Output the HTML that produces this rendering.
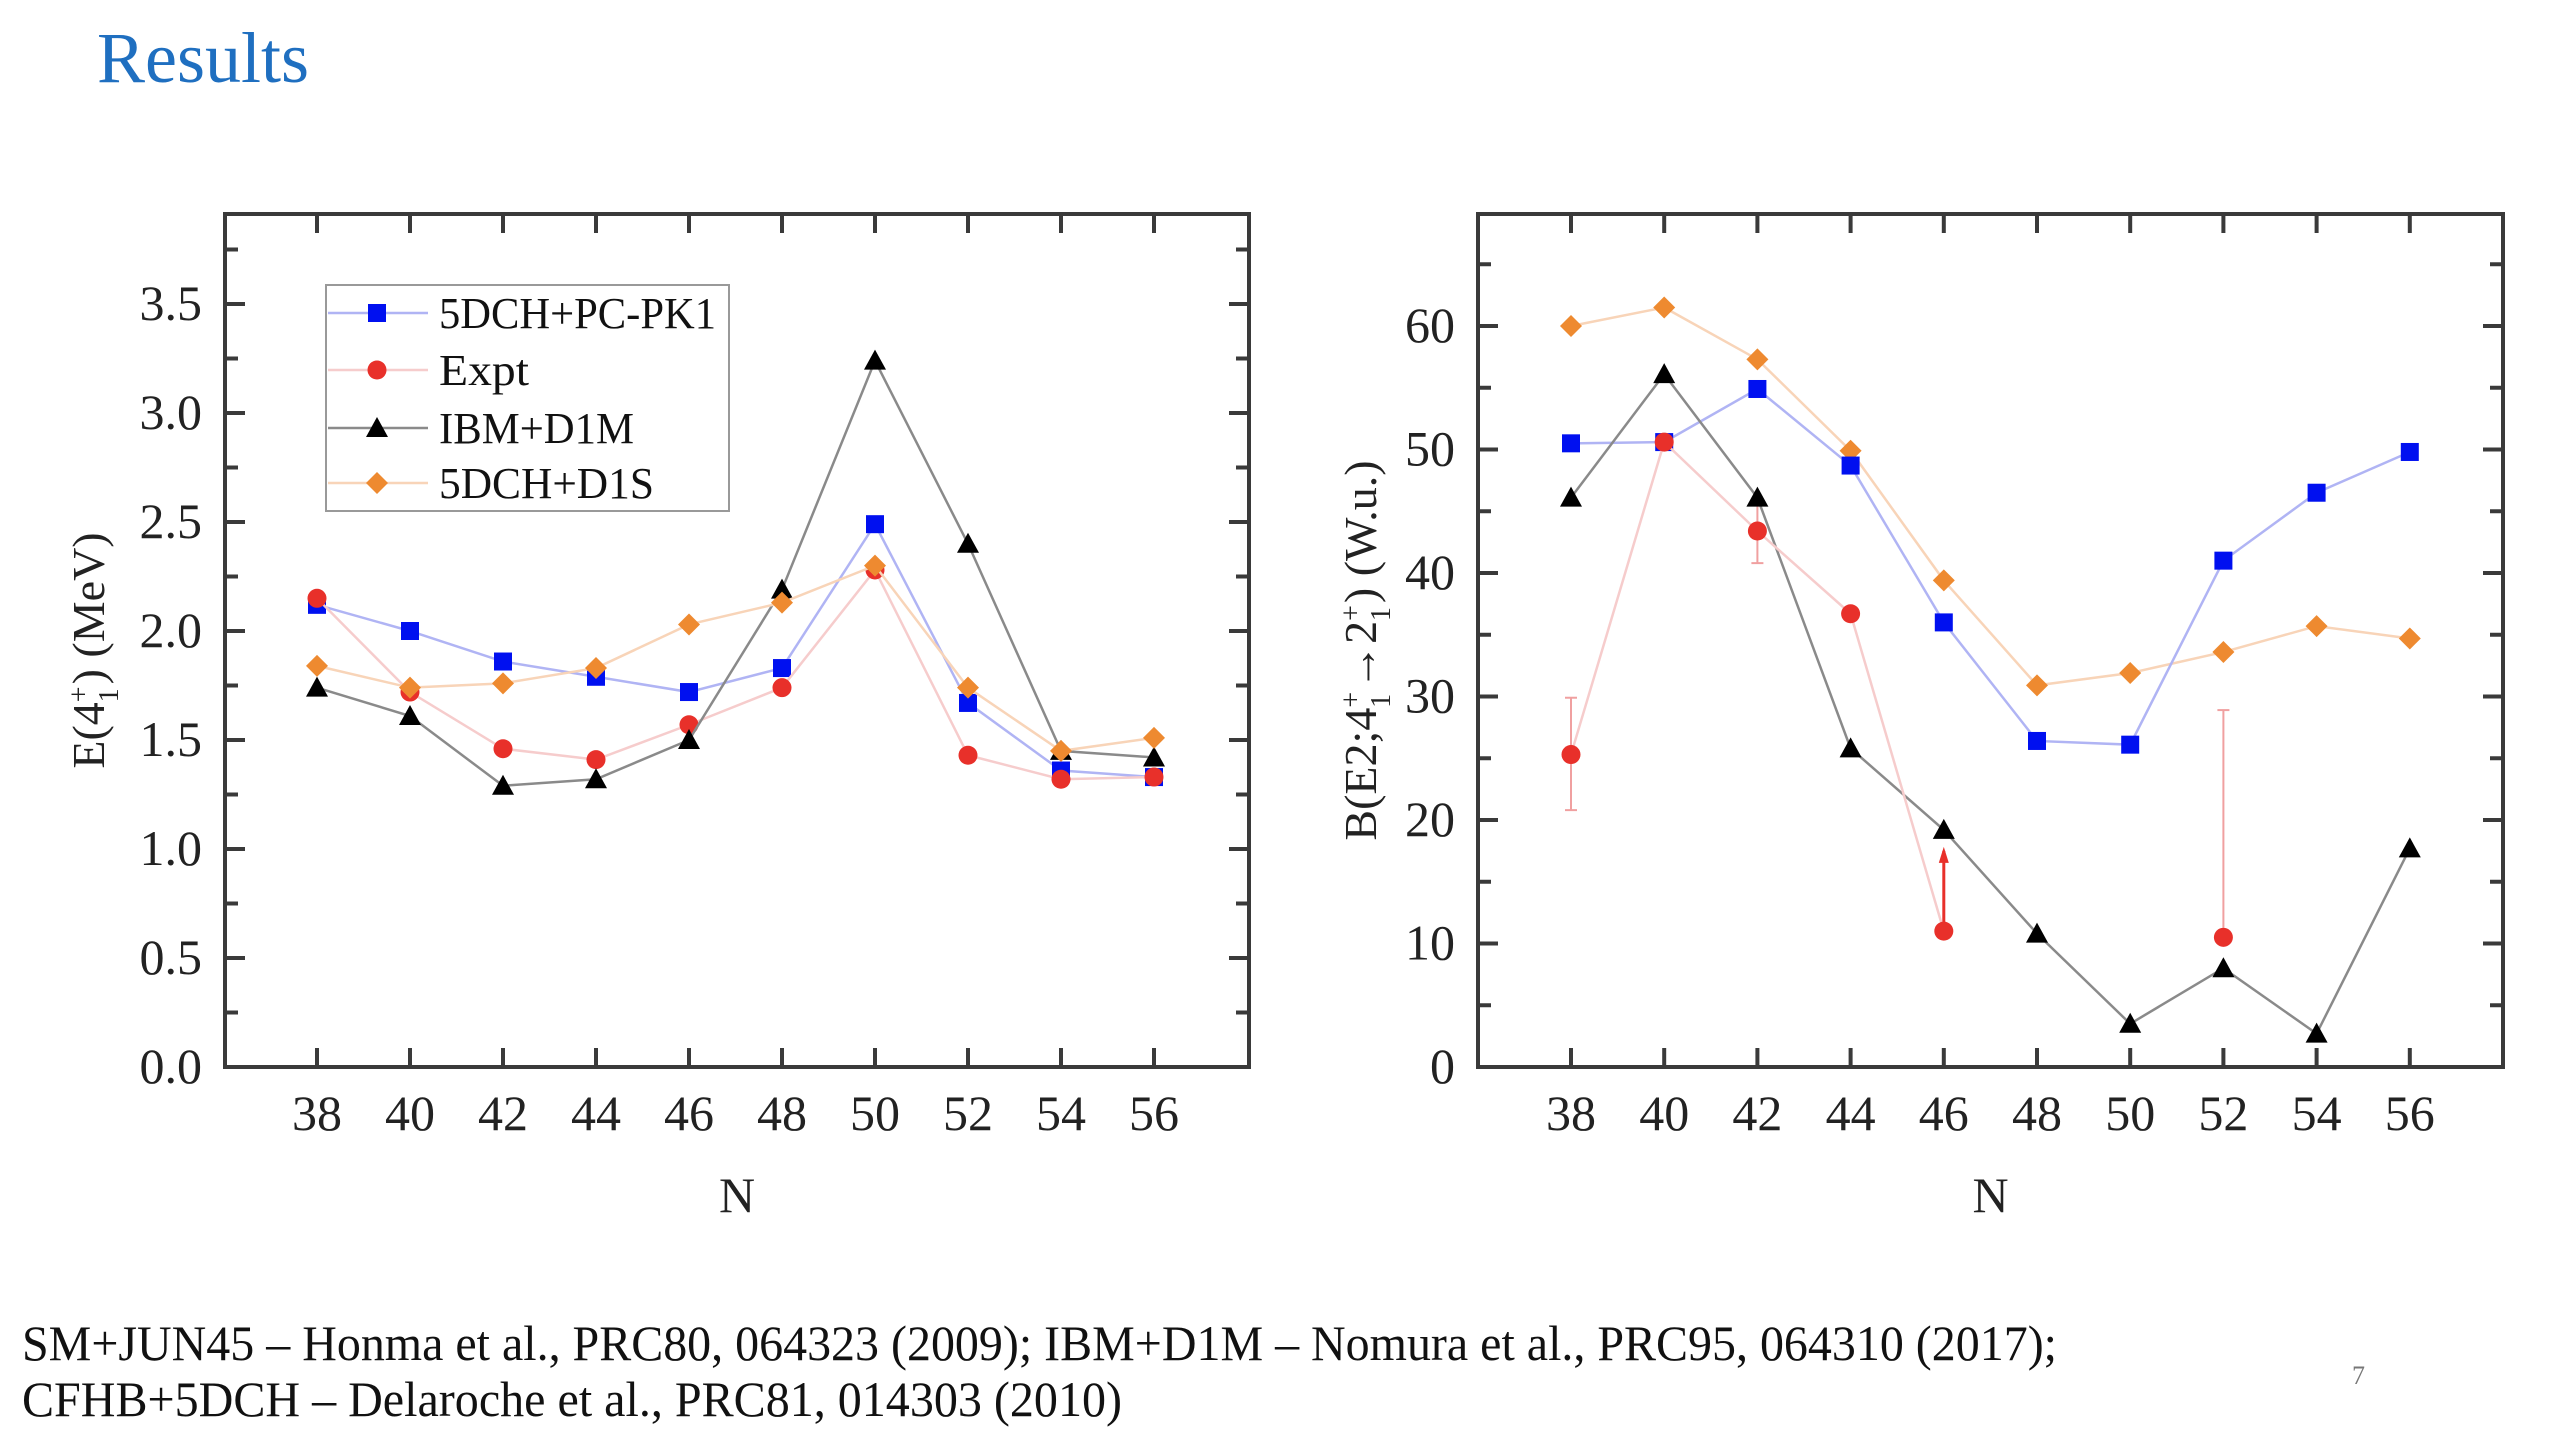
<!DOCTYPE html>
<html><head><meta charset="utf-8"><style>
html,body{margin:0;padding:0;background:#fff;}
svg{display:block;font-family:"Liberation Serif",serif;}
</style></head><body>
<svg id="root" width="2560" height="1440" viewBox="0 0 2560 1440">
<text x="97" y="82" font-size="72" fill="#1f6fc0">Results</text>
<g id="left"></g>
<g id="right"></g>
<g id="legend"></g>
<text x="22" y="1360" font-size="50" fill="#111" textLength="2035" lengthAdjust="spacingAndGlyphs">SM+JUN45 – Honma et al., PRC80, 064323 (2009); IBM+D1M – Nomura et al., PRC95, 064310 (2017);</text>
<text x="22" y="1416" font-size="50" fill="#111" textLength="1100" lengthAdjust="spacingAndGlyphs">CFHB+5DCH – Delaroche et al., PRC81, 014303 (2010)</text>
<text x="2352" y="1384" font-size="26" fill="#777">7</text>
</svg>
<script>
const categories=[38,40,42,44,46,48,50,52,54,56];
const eTicks=[0,0.5,1.0,1.5,2.0,2.5,3.0,3.5];
const eLabels=["0.0","0.5","1.0","1.5","2.0","2.5","3.0","3.5"];
const ePK1=[2.12,2.00,1.86,1.79,1.72,1.83,2.49,1.67,1.36,1.33];
const eExpt=[2.15,1.72,1.46,1.41,1.57,1.74,2.28,1.43,1.32,1.33];
const eIBM=[1.74,1.61,1.29,1.32,1.50,2.19,3.24,2.40,1.45,1.42];
const eD1S=[1.84,1.74,1.76,1.83,2.03,2.13,2.30,1.74,1.45,1.51];
const bTicks=[0,10,20,30,40,50,60];
const bLabels=["0","10","20","30","40","50","60"];
const bPK1=[50.5,50.6,54.9,48.7,36.0,26.4,26.1,41.0,46.5,49.8];
const bD1S=[60.0,61.5,57.3,49.9,39.4,30.9,31.9,33.6,35.7,34.7];
const bIBM=[46.1,56.1,46.1,25.8,19.2,10.8,3.5,8.0,2.7,17.7];
const bExpt=[25.3,50.6,43.4,36.7,11.0,null,null,10.5,null,null];
const bErrLo=[20.8,null,40.8,null,null,null,null,null,null,null];
const bErrHi=[29.9,null,46.0,null,17.5,null,null,28.9,null,null];
const legendNames=["5DCH+PC-PK1","Expt","IBM+D1M","5DCH+D1S"];

const NS="http://www.w3.org/2000/svg";
function mk(parent,tag,attrs){const e=document.createElementNS(NS,tag);for(const k in attrs)e.setAttribute(k,attrs[k]);parent.appendChild(e);return e;}
const COL={pk1:["#0010f0","#b0b4f4"],expt:["#e8302a","#f6cccc"],ibm:["#000","#8a8a8a"],d1s:["#ee8a30","#f8d4b8"]};
function marker(g,kind,x,y){let e;
 if(kind==="pk1"){e=mk(g,"rect",{x:x-9,y:y-9,width:18,height:18,fill:COL.pk1[0]});}
 else if(kind==="expt"){e=mk(g,"circle",{cx:x,cy:y,r:9.5,fill:COL.expt[0]});}
 else if(kind==="ibm"){e=mk(g,"polygon",{points:`${x},${y-11} ${x-11},${y+9} ${x+11},${y+9}`,fill:"#000"});}
 else {e=mk(g,"polygon",{points:`${x},${y-11} ${x+11},${y} ${x},${y+11} ${x-11},${y}`,fill:COL.d1s[0]});}
 return e;}
function series(g,kind,vals,X,Y,name){
 const sg=mk(g,"g",{});
 
 
 let d="";let pen=false;
 vals.forEach((v,i)=>{if(v===null){pen=false;return;}d+=(pen?"L":"M")+X(categories[i])+","+Y(v)+" ";pen=true;});
 const p=mk(sg,"path",{d:d,fill:"none",stroke:COL[kind][1],"stroke-width":2.5});
 
 
 vals.forEach((v,i)=>{if(v===null)return;const m=marker(sg,kind,X(categories[i]),Y(v));
  
  });
}
function frame(g,L,T,R,B,X,Y,yt,yl,minorY,ylabel,ylabelX,tickLabelX){
 mk(g,"rect",{x:L,y:T,width:R-L,height:B-T,fill:"none",stroke:"#3a3a3a","stroke-width":4});
 categories.forEach(c=>{const x=X(c);
  mk(g,"line",{x1:x,y1:B,x2:x,y2:B-19,stroke:"#3a3a3a","stroke-width":4});
  mk(g,"line",{x1:x,y1:T,x2:x,y2:T+19,stroke:"#3a3a3a","stroke-width":4});
  const t=mk(g,"text",{x:x,y:1130,"font-size":50,"text-anchor":"middle",fill:"#222"});t.textContent=c;
  
  });
 yt.forEach((v,i)=>{const y=Y(v);
  mk(g,"line",{x1:L,y1:y,x2:L+20,y2:y,stroke:"#3a3a3a","stroke-width":4});
  mk(g,"line",{x1:R,y1:y,x2:R-20,y2:y,stroke:"#3a3a3a","stroke-width":4});
  const t=mk(g,"text",{x:tickLabelX,y:y+16,"font-size":50,"text-anchor":"end",fill:"#222"});t.textContent=yl[i];
  
  });
 minorY.forEach(v=>{const y=Y(v);
  mk(g,"line",{x1:L,y1:y,x2:L+13,y2:y,stroke:"#3a3a3a","stroke-width":4});
  mk(g,"line",{x1:R,y1:y,x2:R-13,y2:y,stroke:"#3a3a3a","stroke-width":4});});
 const n=mk(g,"text",{x:(L+R)/2,y:1212,"font-size":50,"text-anchor":"middle",fill:"#222"});n.textContent="N";
 
 
 const yT=mk(g,"text",{x:0,y:0,"font-size":46,"text-anchor":"middle",fill:"#222",transform:`translate(${ylabelX},${(T+B)/2+10}) rotate(-90)`});
 yT.innerHTML=ylabel;
 
 
}
// Left chart
(function(){
 const g=document.getElementById('left');
 const L=225,T=214,R=1249,B=1067;
 const X=n=>317+(n-38)*46.5;
 const Y=v=>B-v*(763/3.5);
 const minor=[0.25,0.75,1.25,1.75,2.25,2.75,3.25,3.75];
 frame(g,L,T,R,B,X,Y,eTicks,eLabels,minor,'E(4<tspan font-size="28" dy="-16">+</tspan><tspan font-size="28" dx="-16" dy="30">1</tspan><tspan dy="-14" dx="4">) (MeV)</tspan>',104,202);
 series(g,"pk1",ePK1,X,Y,"series-5dch-pc-pk1");
 series(g,"expt",eExpt,X,Y,"series-expt");
 series(g,"ibm",eIBM,X,Y,"series-ibm-d1m");
 series(g,"d1s",eD1S,X,Y,"series-5dch-d1s");
})();
// Right chart
(function(){
 const g=document.getElementById('right');
 const L=1478,T=214,R=2503,B=1067;
 const X=n=>1571+(n-38)*46.6;
 const Y=v=>B-v*(741/60);
 const minor=[5,15,25,35,45,55,65];
 frame(g,L,T,R,B,X,Y,bTicks,bLabels,minor,'B(E2;4<tspan font-size="28" dy="-16">+</tspan><tspan font-size="28" dx="-16" dy="30">1</tspan><tspan dy="-14" dx="4">→2</tspan><tspan font-size="28" dy="-16">+</tspan><tspan font-size="28" dx="-16" dy="30">1</tspan><tspan dy="-14" dx="4">) (W.u.)</tspan>',1376,1455);
 const eg=mk(g,"g",{});
 
 
 categories.forEach((c,i)=>{if(bErrHi[i]===null)return;const x=X(c);
  const lo=bErrLo[i]===null?bExpt[i]:bErrLo[i];
  mk(eg,"line",{x1:x,y1:Y(lo),x2:x,y2:Y(bErrHi[i]),stroke:i===4?"#e8302a":"#f0a0a0","stroke-width":i===4?3:2});
  if(i===4){mk(eg,"polygon",{points:`${x},${Y(bErrHi[i])-4} ${x-5},${Y(bErrHi[i])+12} ${x+5},${Y(bErrHi[i])+12}`,fill:"#e8302a"});}
  else{mk(eg,"line",{x1:x-6,y1:Y(bErrHi[i]),x2:x+6,y2:Y(bErrHi[i]),stroke:"#f0a0a0","stroke-width":2});
   if(bErrLo[i]!==null)mk(eg,"line",{x1:x-6,y1:Y(lo),x2:x+6,y2:Y(lo),stroke:"#f0a0a0","stroke-width":2});}
 });
 series(g,"d1s",bD1S,X,Y,"series-5dch-d1s");
 series(g,"pk1",bPK1,X,Y,"series-5dch-pc-pk1");
 series(g,"ibm",bIBM,X,Y,"series-ibm-d1m");
 series(g,"expt",bExpt,X,Y,"series-expt");
})();
// Legend
(function(){
 const g=document.getElementById('legend');
 mk(g,"rect",{x:326,y:285,width:403,height:226,fill:"#fff",stroke:"#999","stroke-width":2});
 const kinds=["pk1","expt","ibm","d1s"];const rows=[313,370,428,483];const widths=[277,90,195,215];
 kinds.forEach((k,i)=>{
  const eg=mk(g,"g",{});
  
  
  mk(eg,"line",{x1:328,y1:rows[i],x2:428,y2:rows[i],stroke:COL[k][1],"stroke-width":2.5});
  marker(eg,k,377,rows[i]);
  const t=mk(eg,"text",{x:439,y:rows[i]+15,"font-size":44,fill:"#111",textLength:widths[i],lengthAdjust:"spacingAndGlyphs"});
  t.textContent=legendNames[i];
 });
})();
</script>
</body></html>
